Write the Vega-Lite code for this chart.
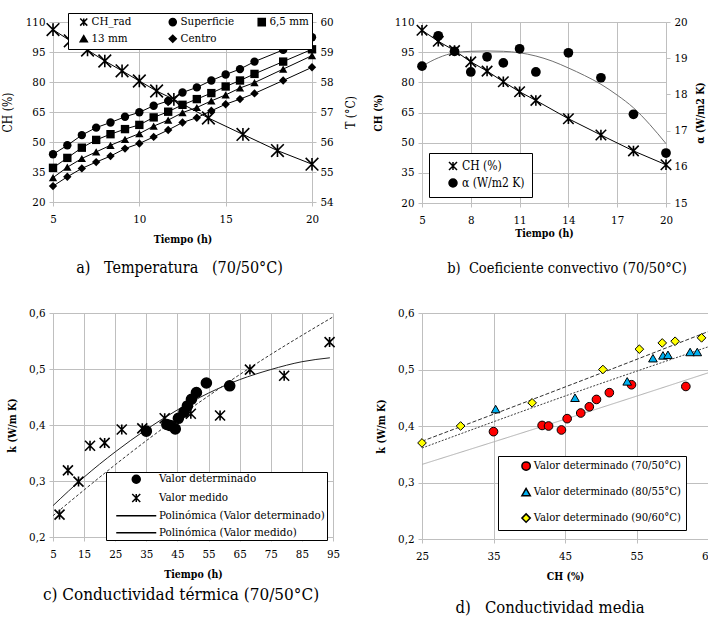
{
  "$schema": "https://vega.github.io/schema/vega-lite/v6.json",
  "padding": {"left": 1, "top": 12, "right": 0, "bottom": 0},
  "background": "white",
  "columns": 2,
  "spacing": {"row": 65, "column": 83},
  "bounds": "flush",
  "align": "all",
  "resolve": {
    "scale": {"shape": "independent", "fill": "independent", "color": "independent", "strokeDash": "independent", "x": "independent", "y": "independent"},
    "legend": {"shape": "independent", "fill": "independent", "color": "independent", "strokeDash": "independent"}
  },
  "datasets": {
    "a": [
      {"t": 5, "s": "CH_rad", "v": 106.2}, {"t": 6, "s": "CH_rad", "v": 100.6}, {"t": 7, "s": "CH_rad", "v": 96.0}, {"t": 8, "s": "CH_rad", "v": 90.5}, {"t": 9, "s": "CH_rad", "v": 85.6}, {"t": 10, "s": "CH_rad", "v": 80.5}, {"t": 11, "s": "CH_rad", "v": 75.5}, {"t": 12, "s": "CH_rad", "v": 71.3}, {"t": 14, "s": "CH_rad", "v": 62.0}, {"t": 16, "s": "CH_rad", "v": 53.8}, {"t": 18, "s": "CH_rad", "v": 45.7}, {"t": 20, "s": "CH_rad", "v": 38.9},
      {"t": 5, "s": "Superficie", "v": 55.59}, {"t": 5.83, "s": "Superficie", "v": 55.89}, {"t": 6.67, "s": "Superficie", "v": 56.23}, {"t": 7.5, "s": "Superficie", "v": 56.48}, {"t": 8.33, "s": "Superficie", "v": 56.65}, {"t": 9.17, "s": "Superficie", "v": 56.84}, {"t": 10, "s": "Superficie", "v": 56.99}, {"t": 10.83, "s": "Superficie", "v": 57.21}, {"t": 11.67, "s": "Superficie", "v": 57.37}, {"t": 12.5, "s": "Superficie", "v": 57.65}, {"t": 13.33, "s": "Superficie", "v": 57.82}, {"t": 14.17, "s": "Superficie", "v": 58.05}, {"t": 15, "s": "Superficie", "v": 58.25}, {"t": 15.83, "s": "Superficie", "v": 58.43}, {"t": 16.67, "s": "Superficie", "v": 58.68}, {"t": 18.33, "s": "Superficie", "v": 59.07}, {"t": 20, "s": "Superficie", "v": 59.49},
      {"t": 5, "s": "6,5 mm", "v": 55.14}, {"t": 5.83, "s": "6,5 mm", "v": 55.47}, {"t": 6.67, "s": "6,5 mm", "v": 55.81}, {"t": 7.5, "s": "6,5 mm", "v": 56.07}, {"t": 8.33, "s": "6,5 mm", "v": 56.26}, {"t": 9.17, "s": "6,5 mm", "v": 56.43}, {"t": 10, "s": "6,5 mm", "v": 56.57}, {"t": 10.83, "s": "6,5 mm", "v": 56.82}, {"t": 11.67, "s": "6,5 mm", "v": 57.01}, {"t": 12.5, "s": "6,5 mm", "v": 57.24}, {"t": 13.33, "s": "6,5 mm", "v": 57.43}, {"t": 14.17, "s": "6,5 mm", "v": 57.63}, {"t": 15, "s": "6,5 mm", "v": 57.85}, {"t": 15.83, "s": "6,5 mm", "v": 58.05}, {"t": 16.67, "s": "6,5 mm", "v": 58.27}, {"t": 18.33, "s": "6,5 mm", "v": 58.68}, {"t": 20, "s": "6,5 mm", "v": 59.09},
      {"t": 5, "s": "13 mm", "v": 54.81}, {"t": 5.83, "s": "13 mm", "v": 55.16}, {"t": 6.67, "s": "13 mm", "v": 55.45}, {"t": 7.5, "s": "13 mm", "v": 55.67}, {"t": 8.33, "s": "13 mm", "v": 55.89}, {"t": 9.17, "s": "13 mm", "v": 56.09}, {"t": 10, "s": "13 mm", "v": 56.28}, {"t": 10.83, "s": "13 mm", "v": 56.53}, {"t": 11.67, "s": "13 mm", "v": 56.73}, {"t": 12.5, "s": "13 mm", "v": 56.98}, {"t": 13.33, "s": "13 mm", "v": 57.15}, {"t": 14.17, "s": "13 mm", "v": 57.37}, {"t": 15, "s": "13 mm", "v": 57.57}, {"t": 15.83, "s": "13 mm", "v": 57.80}, {"t": 16.67, "s": "13 mm", "v": 57.98}, {"t": 18.33, "s": "13 mm", "v": 58.43}, {"t": 20, "s": "13 mm", "v": 58.88},
      {"t": 5, "s": "Centro", "v": 54.53}, {"t": 5.83, "s": "Centro", "v": 54.84}, {"t": 6.67, "s": "Centro", "v": 55.12}, {"t": 7.5, "s": "Centro", "v": 55.33}, {"t": 8.33, "s": "Centro", "v": 55.53}, {"t": 9.17, "s": "Centro", "v": 55.78}, {"t": 10, "s": "Centro", "v": 55.95}, {"t": 10.83, "s": "Centro", "v": 56.17}, {"t": 11.67, "s": "Centro", "v": 56.40}, {"t": 12.5, "s": "Centro", "v": 56.65}, {"t": 13.33, "s": "Centro", "v": 56.81}, {"t": 14.17, "s": "Centro", "v": 57.04}, {"t": 15, "s": "Centro", "v": 57.26}, {"t": 15.83, "s": "Centro", "v": 57.43}, {"t": 16.67, "s": "Centro", "v": 57.62}, {"t": 18.33, "s": "Centro", "v": 58.05}, {"t": 20, "s": "Centro", "v": 58.49}
    ],
    "b": [
      {"t": 5, "s": "CH (%)", "v": 105.9}, {"t": 6, "s": "CH (%)", "v": 100.4}, {"t": 7, "s": "CH (%)", "v": 95.8}, {"t": 8, "s": "CH (%)", "v": 90.2}, {"t": 9, "s": "CH (%)", "v": 85.6}, {"t": 10, "s": "CH (%)", "v": 80.3}, {"t": 11, "s": "CH (%)", "v": 75.3}, {"t": 12, "s": "CH (%)", "v": 71.0}, {"t": 14, "s": "CH (%)", "v": 61.9}, {"t": 16, "s": "CH (%)", "v": 53.8}, {"t": 18, "s": "CH (%)", "v": 45.9}, {"t": 20, "s": "CH (%)", "v": 39.0},
      {"t": 5, "s": "α (W/m2 K)", "v": 18.78}, {"t": 6, "s": "α (W/m2 K)", "v": 19.62}, {"t": 7, "s": "α (W/m2 K)", "v": 19.19}, {"t": 8, "s": "α (W/m2 K)", "v": 18.62}, {"t": 9, "s": "α (W/m2 K)", "v": 19.04}, {"t": 10, "s": "α (W/m2 K)", "v": 18.87}, {"t": 11, "s": "α (W/m2 K)", "v": 19.26}, {"t": 12, "s": "α (W/m2 K)", "v": 18.62}, {"t": 14, "s": "α (W/m2 K)", "v": 19.15}, {"t": 16, "s": "α (W/m2 K)", "v": 18.46}, {"t": 18, "s": "α (W/m2 K)", "v": 17.45}, {"t": 20, "s": "α (W/m2 K)", "v": 16.38},
      {"t": 5, "s": "tendencia", "v": 18.78}, {"t": 6, "s": "tendencia", "v": 19.01}, {"t": 7, "s": "tendencia", "v": 19.15}, {"t": 8, "s": "tendencia", "v": 19.19}, {"t": 9, "s": "tendencia", "v": 19.20}, {"t": 10, "s": "tendencia", "v": 19.19}, {"t": 11, "s": "tendencia", "v": 19.15}, {"t": 12, "s": "tendencia", "v": 19.06}, {"t": 13, "s": "tendencia", "v": 18.92}, {"t": 14, "s": "tendencia", "v": 18.73}, {"t": 15, "s": "tendencia", "v": 18.52}, {"t": 16, "s": "tendencia", "v": 18.28}, {"t": 17, "s": "tendencia", "v": 17.98}, {"t": 18, "s": "tendencia", "v": 17.63}, {"t": 19, "s": "tendencia", "v": 17.17}, {"t": 20, "s": "tendencia", "v": 16.64}
    ],
    "c": [
      {"t": 35.0, "s": "Valor determinado", "k": 0.389}, {"t": 41.6, "s": "Valor determinado", "k": 0.401}, {"t": 42.7, "s": "Valor determinado", "k": 0.399}, {"t": 44.3, "s": "Valor determinado", "k": 0.393}, {"t": 45.3, "s": "Valor determinado", "k": 0.412}, {"t": 47.1, "s": "Valor determinado", "k": 0.423}, {"t": 48.2, "s": "Valor determinado", "k": 0.434}, {"t": 49.5, "s": "Valor determinado", "k": 0.446}, {"t": 51.1, "s": "Valor determinado", "k": 0.458}, {"t": 54.3, "s": "Valor determinado", "k": 0.475}, {"t": 61.8, "s": "Valor determinado", "k": 0.470},
      {"t": 7.1, "s": "Valor medido", "k": 0.240}, {"t": 9.8, "s": "Valor medido", "k": 0.319}, {"t": 13.2, "s": "Valor medido", "k": 0.299}, {"t": 16.9, "s": "Valor medido", "k": 0.363}, {"t": 21.6, "s": "Valor medido", "k": 0.368}, {"t": 27.1, "s": "Valor medido", "k": 0.392}, {"t": 33.7, "s": "Valor medido", "k": 0.394}, {"t": 40.9, "s": "Valor medido", "k": 0.412}, {"t": 49.3, "s": "Valor medido", "k": 0.420}, {"t": 58.7, "s": "Valor medido", "k": 0.417}, {"t": 68.3, "s": "Valor medido", "k": 0.499}, {"t": 79.3, "s": "Valor medido", "k": 0.488}, {"t": 93.9, "s": "Valor medido", "k": 0.548},
      {"t": 5, "s": "Polinómica (Valor determinado)", "k": 0.238}, {"t": 15, "s": "Polinómica (Valor determinado)", "k": 0.284}, {"t": 25, "s": "Polinómica (Valor determinado)", "k": 0.329}, {"t": 35, "s": "Polinómica (Valor determinado)", "k": 0.372}, {"t": 45, "s": "Polinómica (Valor determinado)", "k": 0.413}, {"t": 55, "s": "Polinómica (Valor determinado)", "k": 0.452}, {"t": 65, "s": "Polinómica (Valor determinado)", "k": 0.490}, {"t": 75, "s": "Polinómica (Valor determinado)", "k": 0.526}, {"t": 85, "s": "Polinómica (Valor determinado)", "k": 0.560}, {"t": 95, "s": "Polinómica (Valor determinado)", "k": 0.593},
      {"t": 5, "s": "Polinómica (Valor medido)", "k": 0.256}, {"t": 15, "s": "Polinómica (Valor medido)", "k": 0.307}, {"t": 25, "s": "Polinómica (Valor medido)", "k": 0.352}, {"t": 35, "s": "Polinómica (Valor medido)", "k": 0.392}, {"t": 45, "s": "Polinómica (Valor medido)", "k": 0.427}, {"t": 55, "s": "Polinómica (Valor medido)", "k": 0.457}, {"t": 65, "s": "Polinómica (Valor medido)", "k": 0.481}, {"t": 75, "s": "Polinómica (Valor medido)", "k": 0.499}, {"t": 85, "s": "Polinómica (Valor medido)", "k": 0.513}, {"t": 94, "s": "Polinómica (Valor medido)", "k": 0.520}
    ],
    "d": [
      {"ch": 35.0, "s": "Valor determinado (70/50°C)", "k": 0.390}, {"ch": 41.8, "s": "Valor determinado (70/50°C)", "k": 0.401}, {"ch": 42.7, "s": "Valor determinado (70/50°C)", "k": 0.400}, {"ch": 44.5, "s": "Valor determinado (70/50°C)", "k": 0.393}, {"ch": 45.3, "s": "Valor determinado (70/50°C)", "k": 0.413}, {"ch": 47.2, "s": "Valor determinado (70/50°C)", "k": 0.423}, {"ch": 48.4, "s": "Valor determinado (70/50°C)", "k": 0.434}, {"ch": 49.4, "s": "Valor determinado (70/50°C)", "k": 0.447}, {"ch": 51.2, "s": "Valor determinado (70/50°C)", "k": 0.459}, {"ch": 54.3, "s": "Valor determinado (70/50°C)", "k": 0.473}, {"ch": 61.9, "s": "Valor determinado (70/50°C)", "k": 0.470},
      {"ch": 35.3, "s": "Valor determinado (80/55°C)", "k": 0.430}, {"ch": 46.4, "s": "Valor determinado (80/55°C)", "k": 0.450}, {"ch": 53.7, "s": "Valor determinado (80/55°C)", "k": 0.479}, {"ch": 57.3, "s": "Valor determinado (80/55°C)", "k": 0.520}, {"ch": 58.7, "s": "Valor determinado (80/55°C)", "k": 0.525}, {"ch": 59.4, "s": "Valor determinado (80/55°C)", "k": 0.526}, {"ch": 62.5, "s": "Valor determinado (80/55°C)", "k": 0.531}, {"ch": 63.5, "s": "Valor determinado (80/55°C)", "k": 0.531},
      {"ch": 25.0, "s": "Valor determinado (90/60°C)", "k": 0.370}, {"ch": 30.4, "s": "Valor determinado (90/60°C)", "k": 0.400}, {"ch": 40.4, "s": "Valor determinado (90/60°C)", "k": 0.441}, {"ch": 50.3, "s": "Valor determinado (90/60°C)", "k": 0.500}, {"ch": 55.4, "s": "Valor determinado (90/60°C)", "k": 0.536}, {"ch": 58.6, "s": "Valor determinado (90/60°C)", "k": 0.547}, {"ch": 60.4, "s": "Valor determinado (90/60°C)", "k": 0.550}, {"ch": 64.1, "s": "Valor determinado (90/60°C)", "k": 0.556},
      {"ch": 25, "s": "tendencia 70/50", "k": 0.332}, {"ch": 45, "s": "tendencia 70/50", "k": 0.412}, {"ch": 65, "s": "tendencia 70/50", "k": 0.494},
      {"ch": 25, "s": "tendencia 80/55", "k": 0.361}, {"ch": 45, "s": "tendencia 80/55", "k": 0.453}, {"ch": 65, "s": "tendencia 80/55", "k": 0.540},
      {"ch": 25, "s": "tendencia 90/60", "k": 0.373}, {"ch": 45, "s": "tendencia 90/60", "k": 0.469}, {"ch": 65, "s": "tendencia 90/60", "k": 0.567}
    ]
  },
  "concat": [
    {
      "width": 259, "height": 180,
      "data": {"name": "a"},
      "title": {"text": "a)\u00a0\u00a0 Temperatura\u00a0\u00a0 (70/50°C)", "orient": "bottom", "anchor": "middle", "offset": 15, "dx": -3, "fontSize": 16},
      "layer": [
        {
          "transform": [{"filter": "datum.s === 'CH_rad'"}],
          "encoding": {
            "x": {"field": "t", "type": "quantitative", "scale": {"domain": [5, 20], "nice": false, "zero": false}, "axis": {"values": [5, 10, 15, 20], "title": "Tiempo (h)"}},
            "y": {"field": "v", "type": "quantitative", "scale": {"domain": [20, 110], "nice": false, "zero": false}, "axis": {"values": [20, 35, 50, 65, 80, 95, 110], "title": "CH (%)", "titleFontWeight": "normal", "titleFontSize": 12}}
          },
          "layer": [
            {"mark": {"type": "line", "color": "black", "strokeWidth": 1}},
            {"mark": {"type": "point", "filled": true, "color": "black", "stroke": "black", "strokeWidth": 1.6, "size": 160, "opacity": 1},
             "encoding": {"shape": {"field": "s", "type": "nominal",
               "scale": {"domain": ["CH_rad", "Superficie", "6,5 mm", "13 mm", "Centro"], "range": ["M-1,-1L1,1M-1,1L1,-1M0,-1L0,1", "circle", "square", "triangle-up", "diamond"]},
               "legend": {"orient": "none", "legendX": 15, "legendY": -9, "direction": "horizontal", "columns": 3, "gridAlign": "all", "columnPadding": 14, "rowPadding": 3, "padding": 3, "symbolOffset": 7, "labelOffset": 2, "symbolSize": 50, "strokeColor": "black", "fillColor": "white", "labelFontSize": 11.5, "title": null,
                 "encode": {"symbols": {"update": {"stroke": {"value": "black"}, "strokeWidth": {"value": 1}, "fill": {"value": "black"}}}}}}}}
          ]
        },
        {
          "transform": [{"filter": "datum.s !== 'CH_rad'"}],
          "encoding": {
            "x": {"field": "t", "type": "quantitative", "scale": {"domain": [5, 20], "nice": false, "zero": false}},
            "y": {"field": "v", "type": "quantitative", "scale": {"domain": [54, 60], "nice": false, "zero": false}, "axis": {"orient": "right", "values": [54, 55, 56, 57, 58, 59, 60], "grid": false, "title": "T (°C)", "titleFontWeight": "normal", "titleFontSize": 12, "titleAngle": 270, "titlePadding": 24}}
          },
          "layer": [
            {"mark": {"type": "line", "color": "black", "strokeWidth": 1}, "encoding": {"detail": {"field": "s"}}},
            {"mark": {"type": "point", "filled": true, "color": "black", "size": 70, "opacity": 1},
             "encoding": {"shape": {"field": "s", "type": "nominal", "scale": {"domain": ["CH_rad", "Superficie", "6,5 mm", "13 mm", "Centro"], "range": ["M-1,-1L1,1M-1,1L1,-1M0,-1L0,1", "circle", "square", "triangle-up", "diamond"]},
               "legend": {"orient": "none", "legendX": 15, "legendY": -9, "direction": "horizontal", "columns": 3, "gridAlign": "all", "columnPadding": 14, "rowPadding": 3, "padding": 3, "symbolOffset": 7, "labelOffset": 2, "symbolSize": 50, "strokeColor": "black", "fillColor": "white", "labelFontSize": 11.5, "title": null,
                 "encode": {"symbols": {"update": {"stroke": {"value": "black"}, "strokeWidth": {"value": 1}, "fill": {"value": "black"}}}}}}}}
          ]
        }
      ],
      "resolve": {"scale": {"y": "independent"}}
    },
    {
      "width": 244, "height": 181,
      "data": {"name": "b"},
      "title": {"text": "b)\u00a0 Coeficiente convectivo (70/50°C)", "orient": "bottom", "anchor": "middle", "offset": 23, "dx": 23, "fontSize": 14.5},
      "layer": [
        {
          "transform": [{"filter": "datum.s === 'CH (%)'"}],
          "encoding": {
            "x": {"field": "t", "type": "quantitative", "scale": {"domain": [5, 20], "nice": false, "zero": false}, "axis": {"values": [5, 8, 11, 14, 17, 20], "title": "Tiempo (h)", "titlePadding": 3}},
            "y": {"field": "v", "type": "quantitative", "scale": {"domain": [20, 110], "nice": false, "zero": false}, "axis": {"values": [20, 35, 50, 65, 80, 95, 110], "title": "CH (%)"}}
          },
          "layer": [
            {"mark": {"type": "line", "color": "black", "strokeWidth": 1}},
            {"mark": {"type": "point", "filled": true, "color": "black", "stroke": "black", "strokeWidth": 1.6, "size": 110, "opacity": 1},
             "encoding": {"shape": {"field": "s", "type": "nominal",
               "scale": {"domain": ["CH (%)", "α (W/m2 K)"], "range": ["M-1,-1L1,1M-1,1L1,-1M0,-1L0,1", "circle"]},
               "legend": {"orient": "none", "legendX": 7, "legendY": 131, "direction": "vertical", "padding": 7, "rowPadding": 3, "symbolOffset": 11, "labelOffset": 3, "symbolSize": 64, "strokeColor": "black", "fillColor": "white", "labelFontSize": 12, "title": null,
                 "encode": {"symbols": {"update": {"stroke": {"value": "black"}, "strokeWidth": {"value": 1}, "fill": {"value": "black"}}}}}}}}
          ]
        },
        {
          "transform": [{"filter": "datum.s !== 'CH (%)'"}],
          "encoding": {
            "x": {"field": "t", "type": "quantitative", "scale": {"domain": [5, 20], "nice": false, "zero": false}},
            "y": {"field": "v", "type": "quantitative", "scale": {"domain": [15, 20], "nice": false, "zero": false}, "axis": {"orient": "right", "values": [15, 16, 17, 18, 19, 20], "grid": false, "title": "α (W/m2 K)", "titleAngle": 270, "titlePadding": 18}}
          },
          "layer": [
            {"transform": [{"filter": "datum.s === 'tendencia'"}], "mark": {"type": "line", "color": "#707070", "strokeWidth": 1, "interpolate": "monotone"}},
            {"transform": [{"filter": "datum.s !== 'tendencia'"}], "mark": {"type": "point", "filled": true, "color": "black", "size": 95, "opacity": 1},
             "encoding": {"shape": {"field": "s", "type": "nominal", "scale": {"domain": ["CH (%)", "α (W/m2 K)"], "range": ["M-1,-1L1,1M-1,1L1,-1M0,-1L0,1", "circle"]},
               "legend": {"orient": "none", "legendX": 7, "legendY": 131, "direction": "vertical", "padding": 7, "rowPadding": 3, "symbolOffset": 11, "labelOffset": 3, "symbolSize": 64, "strokeColor": "black", "fillColor": "white", "labelFontSize": 12, "title": null,
                 "encode": {"symbols": {"update": {"stroke": {"value": "black"}, "strokeWidth": {"value": 1}, "fill": {"value": "black"}}}}}}}}
          ]
        }
      ],
      "resolve": {"scale": {"y": "independent"}}
    },
    {
      "width": 280, "height": 224,
      "data": {"name": "c"},
      "title": {"text": "c) Conductividad térmica (70/50°C)", "orient": "bottom", "anchor": "middle", "offset": 7, "dx": -12, "fontSize": 17},
      "encoding": {
        "x": {"field": "t", "type": "quantitative", "scale": {"domain": [5, 95], "nice": false, "zero": false}, "axis": {"values": [5, 15, 25, 35, 45, 55, 65, 75, 85, 95], "title": "Tiempo (h)"}},
        "y": {"field": "k", "type": "quantitative", "scale": {"domain": [0.2, 0.6], "nice": false, "zero": false}, "axis": {"values": [0.2, 0.3, 0.4, 0.5, 0.6], "title": "k (W/m K)", "labelExpr": "replace(format(datum.value, '.1f'), '.', ',')"}}
      },
      "layer": [
        {"transform": [{"filter": "datum.s === 'Polinómica (Valor determinado)'"}], "mark": {"type": "line", "color": "#333333", "strokeWidth": 1, "strokeDash": [3, 2], "interpolate": "monotone"}},
        {"transform": [{"filter": "datum.s === 'Polinómica (Valor medido)'"}], "mark": {"type": "line", "color": "#222222", "strokeWidth": 1, "interpolate": "monotone"}},
        {"transform": [{"filter": "datum.s === 'Valor determinado' || datum.s === 'Valor medido'"}], "mark": {"type": "point", "filled": true, "color": "black", "stroke": "black", "strokeWidth": 1.6, "size": 100, "opacity": 1},
         "encoding": {"shape": {"field": "s", "type": "nominal",
           "scale": {"domain": ["Valor determinado", "Valor medido", "Polinómica (Valor determinado)", "Polinómica (Valor medido)"], "range": ["circle", "M-1,-1L1,1M-1,1L1,-1M0,-1L0,1", "M-5,0L5,0", "M-5,0L5,0"]},
           "legend": {"orient": "none", "legendX": 53, "legendY": 159, "direction": "vertical", "padding": 1.5, "rowPadding": 3.8, "symbolOffset": 23, "labelOffset": 17, "labelLimit": 400, "symbolSize": 64, "strokeColor": "black", "fillColor": "white", "labelFontSize": 11.5, "title": null,
             "encode": {"symbols": {"update": {
               "strokeDash": {"signal": "datum.value === 'Polinómica (Valor determinado)' ? [4, 3] : [1, 0]"},
               "stroke": {"signal": "datum.value === 'Valor medido' ? '#555555' : 'black'"},
               "strokeWidth": {"value": 1},
               "fill": {"value": "black"}}}}}}}}
      ]
    },
    {
      "width": 286, "height": 226,
      "data": {"name": "d"},
      "title": {"text": "d)\u00a0\u00a0 Conductividad media", "orient": "bottom", "anchor": "middle", "offset": 18, "dx": -15, "fontSize": 16.5},
      "encoding": {
        "x": {"field": "ch", "type": "quantitative", "scale": {"domain": [25, 65], "nice": false, "zero": false}, "axis": {"values": [25, 35, 45, 55, 65], "title": "CH (%)"}},
        "y": {"field": "k", "type": "quantitative", "scale": {"domain": [0.2, 0.6], "nice": false, "zero": false}, "axis": {"values": [0.2, 0.3, 0.4, 0.5, 0.6], "title": "k (W/m K)", "labelExpr": "replace(format(datum.value, '.1f'), '.', ',')"}}
      },
      "layer": [
        {"transform": [{"filter": "indexof(datum.s, 'tendencia') === 0"}], "mark": {"type": "line", "strokeWidth": 1, "interpolate": "monotone"},
         "encoding": {
           "color": {"field": "s", "type": "nominal", "scale": {"domain": ["tendencia 70/50", "tendencia 80/55", "tendencia 90/60"], "range": ["#b0b0b0", "#404040", "#303030"]}, "legend": null},
           "strokeDash": {"field": "s", "type": "nominal", "scale": {"domain": ["tendencia 70/50", "tendencia 80/55", "tendencia 90/60"], "range": [[1, 0], [2, 1.5], [4, 2]]}, "legend": null}}},
        {"transform": [{"filter": "indexof(datum.s, 'tendencia') !== 0"}], "mark": {"type": "point", "filled": true, "stroke": "black", "strokeWidth": 1, "size": 75, "opacity": 1},
         "encoding": {
           "shape": {"field": "s", "type": "nominal", "scale": {"domain": ["Valor determinado (70/50°C)", "Valor determinado (80/55°C)", "Valor determinado (90/60°C)"], "range": ["circle", "triangle-up", "diamond"]},
             "legend": {"orient": "none", "legendX": 76, "legendY": 143, "direction": "vertical", "padding": 4.5, "rowPadding": 11, "symbolOffset": 18, "labelOffset": 2, "labelLimit": 400, "symbolSize": 70, "strokeColor": "black", "fillColor": "white", "labelFontSize": 11.2, "title": null,
               "encode": {"symbols": {"update": {"stroke": {"value": "black"}, "strokeWidth": {"value": 1}}}}}},
           "fill": {"field": "s", "type": "nominal", "scale": {"domain": ["Valor determinado (70/50°C)", "Valor determinado (80/55°C)", "Valor determinado (90/60°C)"], "range": ["#ff0000", "#00b0f0", "#ffff00"]},
             "legend": {"orient": "none", "legendX": 76, "legendY": 143, "direction": "vertical", "padding": 4.5, "rowPadding": 11, "symbolOffset": 18, "labelOffset": 2, "labelLimit": 400, "symbolSize": 70, "strokeColor": "black", "fillColor": "white", "labelFontSize": 11.2, "title": null,
               "encode": {"symbols": {"update": {"stroke": {"value": "black"}, "strokeWidth": {"value": 1}}}}}}}}
      ]
    }
  ],
  "config": {
    "font": "DejaVu Serif Condensed, DejaVu Serif",
    "view": {"stroke": null},
    "axis": {"labelFont": "DejaVu Serif Condensed, DejaVu Serif", "labelFontSize": 11.5, "labelColor": "#000000", "titleFont": "DejaVu Serif Condensed, DejaVu Serif", "titleFontSize": 10.5, "titleFontWeight": "bold", "titleColor": "#000000", "gridColor": "#bfbfbf", "gridWidth": 1, "gridOpacity": 1, "domainColor": "#bfbfbf", "tickColor": "#bfbfbf", "tickSize": 4, "labelPadding": 4, "labelFlush": false, "labelBound": false, "labelOverlap": false},
    "axisX": {"grid": true, "labelPadding": 7, "titlePadding": 10},
    "axisY": {"titlePadding": 11},
    "legend": {"labelFont": "DejaVu Serif Condensed, DejaVu Serif", "labelColor": "#000000"},
    "title": {"font": "DejaVu Serif Condensed, DejaVu Serif", "fontSize": 14.5, "fontWeight": "normal", "color": "#000000"}
  }
}
